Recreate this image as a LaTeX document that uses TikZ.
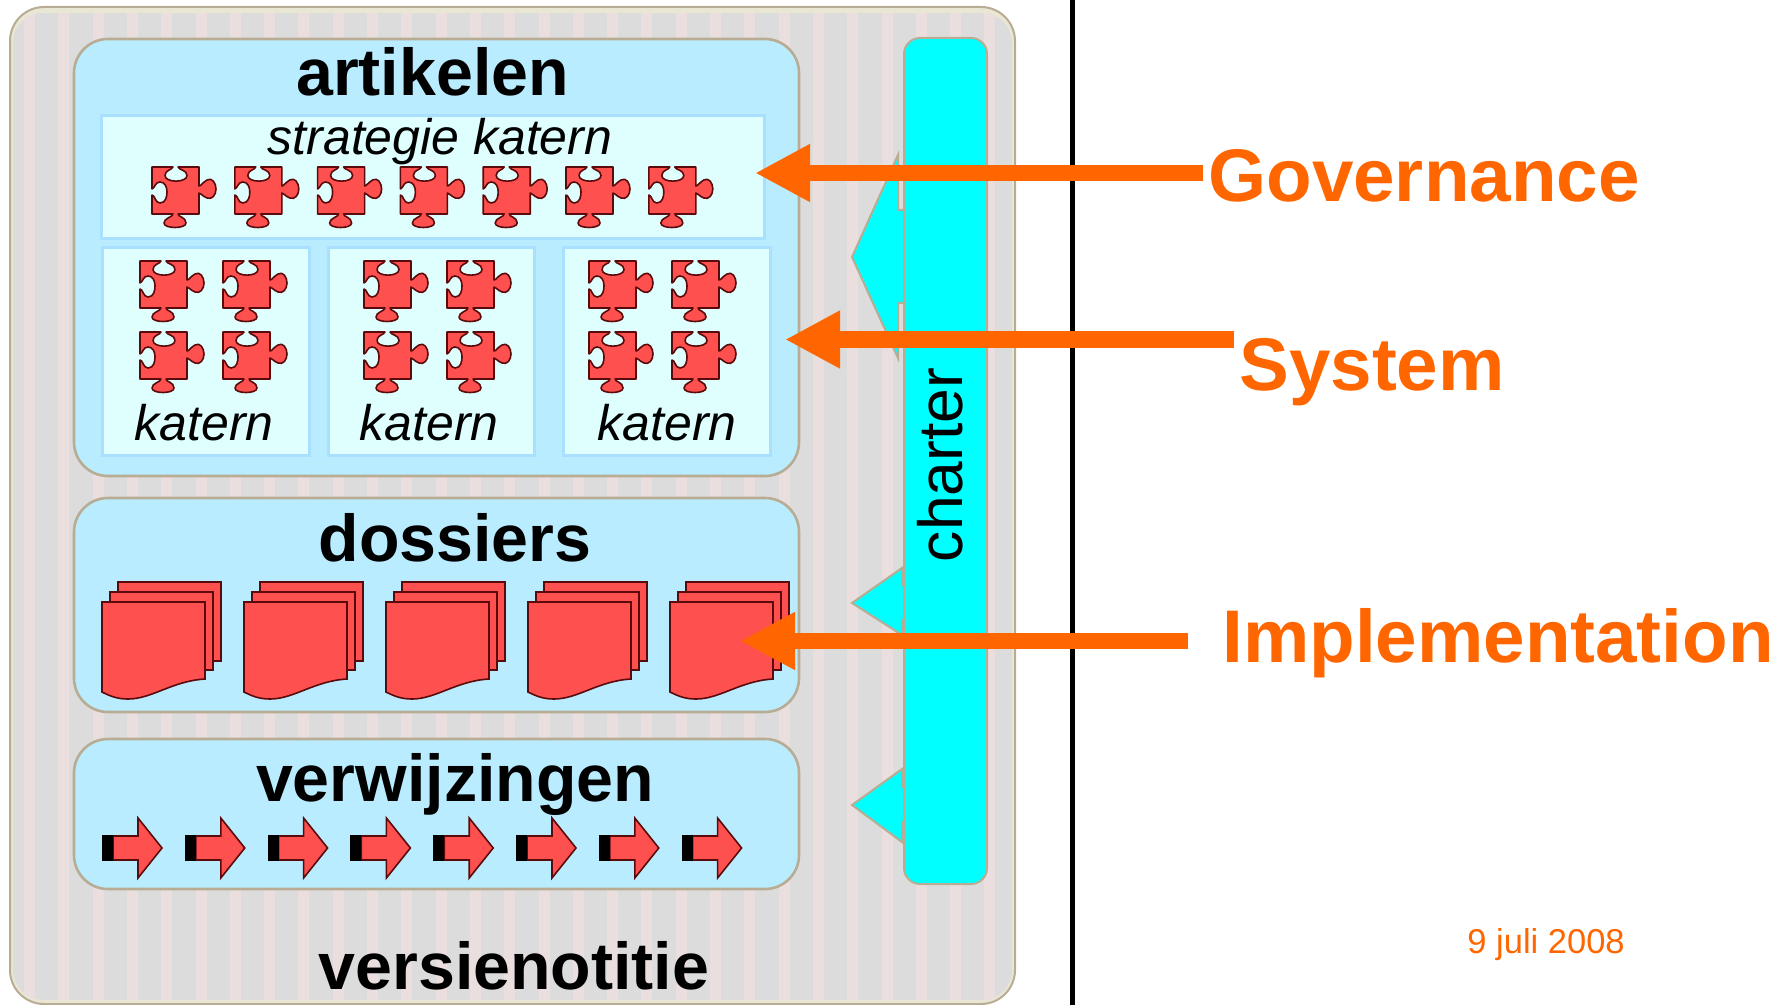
\documentclass[tikz,border=0pt]{standalone}
\usepackage{fontspec}
\setmainfont{Liberation Sans}
\usetikzlibrary{arrows.meta}

\definecolor{stripeGray}{HTML}{DCDCDC}
\definecolor{stripePink}{HTML}{EBDEDE}
\definecolor{edgeTan}{HTML}{B8AD94}
\definecolor{edgeCream}{HTML}{E9E6D3}
\definecolor{panelBlue}{HTML}{B9ECFF}
\definecolor{charterCyan}{HTML}{00FFFF}
\definecolor{katernFill}{HTML}{DFFFFF}
\definecolor{katernEdge}{HTML}{A9DFFF}
\definecolor{pieceRed}{HTML}{FF5050}
\definecolor{pieceEdge}{HTML}{5A0A0A}
\definecolor{noteOrange}{HTML}{FF6600}

\begin{document}
\begin{tikzpicture}[x=0.5pt,y=-0.5pt]

\tikzset{
  Note Head/.tip={Triangle[length=27.5pt, width=27pt]},
  panel/.style={draw=edgeTan, line width=1.3pt, fill=panelBlue, rounded corners=17pt},
  katern box/.style={draw=katernEdge, line width=1.5pt, fill=katernFill},
  callout/.style={draw=edgeTan, line width=1pt, fill=charterCyan},
  red part/.style={draw=pieceEdge, line width=0.8pt, fill=pieceRed},
  panel title/.style={font=\bfseries\fontsize{33.15}{36}\selectfont, anchor=base, inner sep=0pt},
  katern title/.style={font=\itshape\fontsize{25}{28}\selectfont, anchor=base, inner sep=0pt},
  note/.style={font=\bfseries\fontsize{37.3}{40}\selectfont, text=noteOrange, anchor=base west, inner sep=2.5pt},
  note arrow/.style={draw=noteOrange, line width=8pt, arrows=-Note Head},
  puzzle piece/.pic={
    \draw[red part, line join=round] (0,0) -- (21,0) .. controls (20,3) and (13,3) .. (13,8.5)
      .. controls (13,16) and (35,16) .. (35,8.5) .. controls (35,3) and (27,3) .. (26,0)
      -- (47,0) -- (47,19) .. controls (49,19) and (50,16) .. (55,13)
      .. controls (60,10) and (64,16) .. (64,22) .. controls (64,28) and (60,33) .. (55,31)
      .. controls (50,29) and (49,26) .. (47,26) -- (47,47) -- (26,47)
      .. controls (26,50) and (34,50) .. (34,56) .. controls (34,62) and (12,62) .. (12,56)
      .. controls (12,51) and (21,50) .. (21,47) -- (0,47) -- (0,28)
      .. controls (3,28) and (3,36) .. (8,36) .. controls (14,36) and (15,29) .. (15,25)
      .. controls (15,20) and (13,15) .. (8,15) .. controls (3,15) and (3,21) .. (0,22) -- cycle;
  },
  dossier/.pic={
    \draw[red part] (16,-20) rectangle (119,59);
    \draw[red part] (8,-10) rectangle (111,68);
    \draw[red part] (0,0) -- (103,0) -- (103,77) .. controls (70,79) and (50,97) .. (26,97)
      .. controls (15,97) and (8,94) .. (0,90) -- cycle;
  },
  reference/.pic={
    \draw[red part] (11,1) -- (36,1) -- (36,-17) -- (60,13) -- (36,43) -- (36,25) -- (11,25) -- cycle;
    \fill[black] (0,0) rectangle (11,26);
  }
}

\useasboundingbox (0,0) rectangle (1791,1005);

% versienotitie background
\fill[edgeCream, rounded corners=17pt] (10,7) rectangle (1015,1004);
\begin{scope}
  \clip[rounded corners=15pt] (13,13) rectangle (1012,1000);
  \fill[stripeGray] (13,13) rectangle (1012,1000);
  \foreach \x in {0,...,28}
    \fill[stripePink] ({24+34.3*\x},13) rectangle ++(11,987);
\end{scope}
\draw[edgeTan, line width=1pt, rounded corners=17pt] (10,7) rectangle (1015,1004);

% panels
\draw[panel] (74,39) rectangle (799,476);
\draw[panel] (74,498) rectangle (799,712);
\draw[panel] (74,739) rectangle (799,889);

\draw[katern box] (101,116) rectangle (764,239);
\draw[katern box] (102,248) rectangle (309,455);
\draw[katern box] (328,248) rectangle (534,455);
\draw[katern box] (563,248) rectangle (770,455);

\node[panel title] (artikelen) at (432.5,96) {artikelen};
\node[panel title] (dossiers) at (455,561) {dossiers};
\node[panel title] (verwijzingen) at (455,801) {verwijzingen};
\node[panel title] (versienotitie) at (514,989) {versienotitie};
\node[katern title] (strategie) at (440,155) {strategie katern};
\node[katern title] (katernA) at (204,440) {katern};
\node[katern title] (katernB) at (429,440) {katern};
\node[katern title] (katernC) at (667,440) {katern};

\foreach \n in {0,...,6}
  \pic at ({152+82.8*\n},167) {puzzle piece};
\foreach \x in {140,223,364,447,589,672}
  \foreach \y in {261,332}
    \pic at (\x,\y) {puzzle piece};

\foreach \n in {0,...,4}
  \pic at ({102+142*\n},602) {dossier};
\foreach \n in {0,...,7}
  \pic at ({102+82.8*\n},835) {reference};

% charter with its three pointers
\draw[callout] (898,155) -- (852,257) -- (898,358) -- (898,303) -- (906,303) -- (906,210) -- (898,210) -- cycle;
\draw[callout] (902,568) -- (852,603) -- (902,635) -- (902,620) -- (906,620) -- (906,585) -- (902,585) -- cycle;
\draw[callout] (902,769) -- (852,805) -- (902,842) -- (902,822) -- (906,822) -- (906,787) -- (902,787) -- cycle;
\draw[callout, rounded corners=8pt] (904,38) rectangle (987,884);
\node[font=\fontsize{31.2}{34}\selectfont, rotate=90, anchor=base, inner sep=0pt] (charter) at (962,465) {charter};

\draw[black, line width=2.5pt] (1072,0) -- (1072,1005);

% notes on the right
\node[note] (governance) at (1203,202) {Governance};
\node[note] (system) at (1234,390) {System};
\node[note] (implementation) at (1217,662) {Implementation};
\node[font=\fontsize{17.25}{20}\selectfont, text=noteOrange, anchor=base west, inner sep=0pt] (datum) at (1467,953) {9 juli 2008};

\coordinate (governanceTip) at (755,173);
\coordinate (systemTip) at (785,339.5);
\coordinate (implementationTip) at (740,641);
\coordinate (implementationTail) at (1188,641);
\draw[note arrow] (governance.west |- governanceTip) -- (governanceTip);
\draw[note arrow] (system.west |- systemTip) -- (systemTip);
\draw[note arrow] (implementationTail) -- (implementationTip);
\end{tikzpicture}
\end{document}
